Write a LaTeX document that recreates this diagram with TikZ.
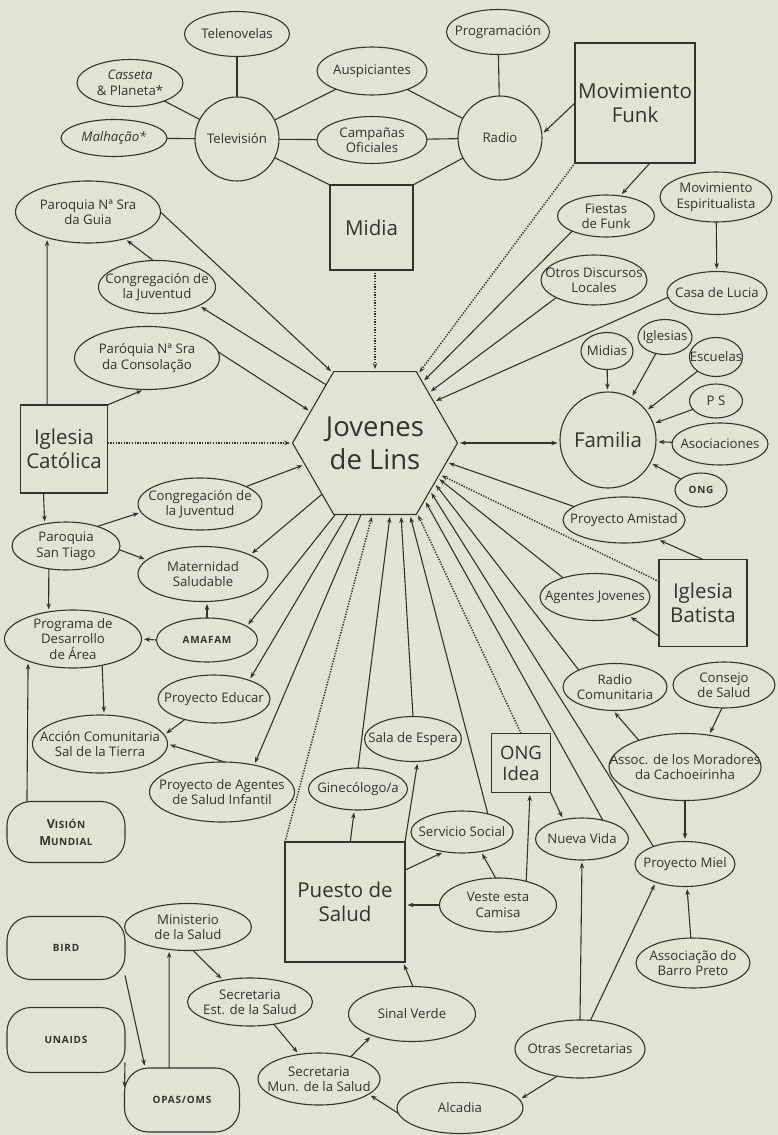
\documentclass[tikz,border=0pt]{standalone}
\usepackage{fontspec}
\setmainfont{Open Sans}
\usetikzlibrary{arrows.meta,shapes.geometric}
\definecolor{bg}{RGB}{226,227,212}
\definecolor{ink}{RGB}{52,52,44}
\newcommand{\capsfont}{\bfseries\fontsize{10}{13}\selectfont\addfontfeature{LetterSpace=8}}
\begin{document}
\begin{tikzpicture}[x=1pt,y=-1pt,
  every node/.style={text=ink, align=center},
  txt/.style={font=\fontsize{13.2}{15.5}\selectfont, inner sep=0pt},
  ell/.style n args={3}{ellipse, draw=ink, line width=1.1pt, minimum width=#1pt, minimum height=#2pt, inner sep=0pt, outer sep=0pt, label={[txt]center:#3}},
  circ/.style 2 args={circle, draw=ink, line width=1.1pt, minimum size=#1pt, inner sep=0pt, outer sep=0pt, label={[txt]center:#2}},
  bigbox/.style 2 args={rectangle, draw=ink, line width=1.1pt, minimum width=#1pt, minimum height=#2pt, inner sep=0pt, outer sep=0pt, font=\fontsize{20.5}{24}\selectfont},
  rbox/.style={rectangle, draw=ink, line width=1.1pt, rounded corners=24pt, minimum width=118pt, minimum height=63pt, inner sep=0pt, outer sep=0pt, font=\capsfont},
  con/.style={draw=ink, line width=1.1pt},
  arr/.style={con, -{Stealth[length=6pt,width=4.5pt]}, shorten >=2.5pt},
  darr/.style={con, {Stealth[length=6pt,width=4.5pt]}-{Stealth[length=6pt,width=4.5pt]}, shorten >=2.5pt, shorten <=2.5pt},
  dot/.style={arr, line width=1.5pt, dash pattern=on 1.3pt off 1.4pt},
]
\fill[bg] (0,0) rectangle (778,1135);
\useasboundingbox (0,0) rectangle (778,1135);

% central hexagon
\node[regular polygon, regular polygon sides=6, draw=ink, line width=1.1pt, minimum size=165pt, inner sep=0pt, outer sep=0pt, font=\fontsize{27.5}{33}\selectfont] (hex) at (375,443) {Jovenes\\de Lins};

% media cluster
\node[circ={84}{Televisión}] (tv) at (237,139) {};
\node[circ={84}{Radio}] (radio) at (500,138) {};
\node[ell={105}{45}{Telenovelas}] (telen) at (237,34) {};
\node[ell={106}{47}{\itshape Casseta\\\& Planeta*}] (cass) at (130,83) {};
\node[ell={106}{37}{\itshape Malhação*}] (malh) at (114,138) {};
\node[ell={110}{48}{Auspiciantes}] (ausp) at (372,71) {};
\node[ell={110}{47}{Campañas\\Oficiales}] (camp) at (372,140) {};
\node[ell={103}{45}{Programación}] (prog) at (498,32) {};
\node[bigbox={120}{120}] (funk) at (635,103) {Movimiento\\Funk};
\node[bigbox={83}{85}] (midia) at (371.5,227.5) {Midia};

% left column
\node[ell={145}{62}{Paroquia Nª Sra\\da Guia}] (guia) at (88,212) {};
\node[ell={117}{53}{Congregación de\\la Juventud}] (congA) at (157,287) {};
\node[ell={145}{63}{Paróquia Nª Sra\\da Consolação}] (consol) at (147,358) {};
\node[bigbox={87}{88}] (catol) at (64,449) {Iglesia\\Católica};
\node[ell={124}{52}{Congregación de\\la Juventud}] (congB) at (200,504) {};
\node[ell={108}{48}{Paroquia\\San Tiago}] (tiago) at (66,546) {};
\node[ell={130}{55}{Maternidad\\Saludable}] (matern) at (203,574) {};
\node[ell={101}{44}{\capsfont AMAFAM}] (amafam) at (207,640) {};
\node[ell={137}{58}{Programa de\\Desarrollo\\de Área}] (pda) at (73,639) {};
\node[ell={112}{48}{Proyecto Educar}] (educar) at (214,699) {};
\node[ell={135}{58}{Acción Comunitaria\\Sal de la Tierra}] (accion) at (100,744) {};
\node[ell={145}{60}{Proyecto de Agentes\\de Salud Infantil}] (agsal) at (222,792) {};
\node[rbox, minimum height=61pt, font=\bfseries\fontsize{12.5}{17}\selectfont\addfontfeature{LetterSpace=5}] (vision) at (66,832) {V{\fontsize{10}{11}\selectfont ISIÓN}\\M{\fontsize{10}{11}\selectfont UNDIAL}};

% bottom left
\node[rbox] (bird) at (66,948) {BIRD};
\node[rbox, minimum height=65pt] (unaids) at (66,1040) {UNAIDS};
\node[rbox, minimum width=115pt, minimum height=64pt] (opas) at (182,1100) {OPAS/OMS};
\node[ell={127}{47}{Ministerio\\de la Salud}] (minist) at (188,927) {};
\node[ell={125}{48}{Secretaria\\Est. de la Salud}] (secest) at (250,1002) {};
\node[ell={122}{52}{Secretaria\\Mun. de la Salud}] (secmun) at (319,1079) {};
\node[ell={127}{55}{Sinal Verde}] (sinal) at (412,1014) {};
\node[ell={126}{51}{Alcadia}] (alcadia) at (460,1108) {};

% health post cluster
\node[bigbox={120}{120}] (puesto) at (345,902) {Puesto de\\Salud};
\node[ell={99}{42}{Ginecólogo/a}] (gine) at (358,789) {};
\node[ell={97}{45}{Sala de Espera}] (sala) at (413,739) {};
\node[ell={102}{42}{Servicio Social}] (serv) at (462,832) {};
\node[ell={117}{54}{Veste esta\\Camisa}] (veste) at (498,905) {};
\node[bigbox={59}{59}, font=\fontsize{18.5}{21}\selectfont] (idea) at (521,763) {ONG\\Idea};
\node[ell={93}{42}{Nueva Vida}] (nueva) at (582,839) {};
\node[ell={130}{58}{Otras Secretarias}] (otras) at (580,1049) {};

% right side
\node[ell={97}{42}{Fiestas\\de Funk}] (fiestas) at (606,216) {};
\node[ell={112}{50}{Movimiento\\Espiritualista}] (movesp) at (716,197) {};
\node[ell={100}{43}{Casa de Lucia}] (casa) at (717,293) {};
\node[ell={106}{50}{Otros Discursos\\Locales}] (otros) at (594,280) {};
\node[circle, draw=ink, line width=1.1pt, minimum size=96pt, inner sep=0pt, outer sep=0pt, font=\fontsize{20.5}{24}\selectfont] (familia) at (608,440) {Familia};
\node[ell={52}{37}{Midias}] (midias) at (607,351) {};
\node[ell={54}{35}{Iglesias}] (iglesias) at (665,337) {};
\node[ell={53}{39}{Escuelas}] (escuelas) at (716,357) {};
\node[ell={53}{34}{P S}] (ps) at (716,401) {};
\node[ell={96}{42}{Asociaciones}] (asoc) at (720,444) {};
\node[ell={52}{34}{\capsfont ONG}] (ongs) at (701,490) {};
\node[ell={122}{46}{Proyecto Amistad}] (amistad) at (624,520) {};
\node[bigbox={88}{87}] (batista) at (703,603) {Iglesia\\Batista};
\node[ell={110}{47}{Agentes Jovenes}] (agjov) at (595,597) {};
\node[ell={104}{47}{Radio\\Comunitaria}] (radiocom) at (615,687) {};
\node[ell={102}{46}{Consejo\\de Salud}] (consejo) at (724,685) {};
\node[ell={152}{67}{Assoc. de los Moradores\\da Cachoeirinha}] (assoc) at (685,767) {};
\node[ell={100}{45}{Proyecto Miel}] (miel) at (685,864) {};
\node[ell={114}{50}{Associação do\\Barro Preto}] (barro) at (693,963) {};

% ---- connectors: media
\draw[con] (tv) -- (telen);
\draw[con] (tv) -- (cass);
\draw[con] (tv) -- (malh);
\draw[con] (tv) -- (ausp);
\draw[con] (tv) -- (camp);
\draw[con] (tv) -- (midia.north west);
\draw[con] (radio) -- (prog);
\draw[con] (radio) -- (ausp);
\draw[con] (radio) -- (camp);
\draw[con] (radio) -- (midia.north east);
\draw[arr] (funk.west) -- (radio.5);
\draw[dot] (funk.south west) -- (hex.58);
\draw[dot] (hex.north |- midia.south) -- (hex.north);
\draw[arr] (funk.-76) -- (fiestas.55);

% ---- right upper
\draw[arr] (fiestas.204) -- (hex.52);
\draw[arr] (otros.205) -- (hex.43);
\draw[arr] (casa.185) -- (hex.35);
\draw[arr] (movesp) -- (casa);
\draw[arr] (midias) -- (familia);
\draw[arr] (iglesias) -- (familia);
\draw[arr] (escuelas) -- (familia);
\draw[arr] (ps) -- (familia);
\draw[arr] (asoc) -- (familia);
\draw[arr] (ongs) -- (familia);
\draw[darr] (hex.east) -- (hex.east -| familia.west);
\draw[arr] (amistad.165) -- (hex.345);
\draw[arr] (batista.north) -- (amistad.-30);
\draw[dot] (batista.154) -- (hex.334);
\draw[arr] (batista.217) -- (agjov.-29);
\draw[arr] (agjov.149) -- (hex.331);
\draw[arr] (radiocom.155) -- (hex.326);
\draw[arr] (miel.151) -- (hex.319);
\draw[arr] (nueva.42) -- (hex.311);
\draw[dot] (idea.north) -- (hex.301);
\draw[arr] (serv.35) -- (hex.296);
\draw[arr] (sala.north) -- (hex.290);
\draw[arr] (gine.north) -- (hex.282);
\draw[dot] (puesto.north west) -- (hex.268);

% ---- left side
\draw[arr] (hex.259) -- (agsal.40);
\draw[arr] (hex.249) -- (educar.28);
\draw[arr] (hex.241) -- (amafam.19);
\draw[arr] (hex.224) -- (matern.22);
\draw[arr] (congB) -- (hex.197);
\draw[dot] (catol.east |- hex.west) -- (hex.west);
\draw[arr] (consol.5) -- (hex.154);
\draw[arr] (hex.130) -- (congA.-24);
\draw[arr] (guia.east) -- (hex.121);
\draw[arr] (catol.111) -- (guia.212);
\draw[arr] (congA.98) -- (guia.-36);
\draw[arr] (catol.north east) -- (consol.-95);
\draw[arr] (catol.245) -- (tiago.134);
\draw[arr] (tiago.32) -- (congB.188);
\draw[arr] (tiago.-4) -- (matern.166);
\draw[arr] (tiago.233) -- (pda.132);
\draw[arr] (amafam.north) -- (amafam.north |- matern.south);
\draw[arr] (amafam.west) -- (pda.east);
\draw[arr] (pda.-42) -- (accion.82);
\draw[arr] (vision.142) -- (pda.206);
\draw[arr] (educar.215) -- (accion.8);
\draw[arr] (agsal.85) -- (accion.0);

% ---- bottom
\draw[arr] (opas.112) -- (minist.230);
\draw[arr] (bird.-25) -- (opas.139);
\draw[arr] (unaids.-21) -- (opas.170);
\draw[arr] (minist.-78) -- (secest.141);
\draw[arr] (secest.-43) -- (secmun.129);
\draw[arr] (secmun.35) -- (sinal.208);
\draw[arr] (alcadia.185) -- (secmun.-17);
\draw[arr] (sinal.88) -- (puesto.-46);
\draw[arr] (puesto.85) -- (gine.-100);
\draw[arr] (puesto.north east) -- (sala.-78);
\draw[arr] (puesto.28) -- (serv.228);
\draw[arr] (veste.west) -- (veste.west -| puesto.east);
\draw[arr] (veste.95) -- (serv.-46);
\draw[arr] (veste.40) -- (idea.-73);
\draw[arr] (idea.south east) -- (nueva.134);
\draw[arr] (otras.north) -- (nueva.south);
\draw[arr] (otras.70) -- (miel.212);
\draw[arr] (otras.230) -- (alcadia.8);
\draw[arr] (assoc.south) -- (miel.north);
\draw[arr] (barro.95) -- (miel.-85);
\draw[arr] (assoc.150) -- (radiocom.-95);
\draw[arr] (consejo.-95) -- (assoc.53);
\end{tikzpicture}
\end{document}
